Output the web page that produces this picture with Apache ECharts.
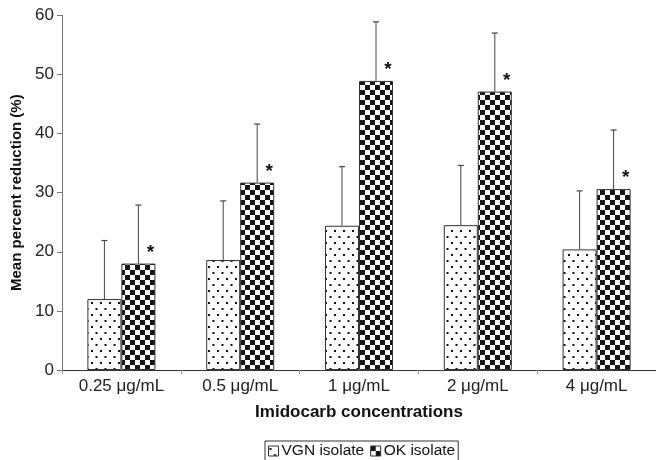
<!DOCTYPE html>
<html><head><meta charset="utf-8">
<script src="https://cdn.jsdelivr.net/npm/echarts@6/dist/echarts.min.js"></script>
<style>html,body{margin:0;padding:0;background:#fff}#c{width:656px;height:460px}</style>
</head><body><div id="c"></div>
<script>
// ---- data ----
const categories = ['0.25 μg/mL', '0.5 μg/mL', '1 μg/mL', '2 μg/mL', '4 μg/mL'];
const vgnValues = [12.0, 18.6, 24.4, 24.5, 20.4];
const okValues = [18.0, 31.7, 48.9, 47.1, 30.6];
const vgnErrors = [9.9, 10.0, 10.0, 10.1, 9.9];
const okErrors = [9.9, 9.9, 10.0, 9.9, 10.0];
const okSignificant = [true, true, true, true, true];
const yTicks = [0, 10, 20, 30, 40, 50, 60];
const seriesNames = ['VGN isolate', 'OK isolate'];

// ---- styles ----
const FONT = "'Liberation Sans', Arial, Helvetica, sans-serif";
const BAR_W = 34;

function dotPattern() {
  const c = document.createElement('canvas');
  c.width = 9; c.height = 12;
  const g = c.getContext('2d');
  g.fillStyle = '#fff'; g.fillRect(0, 0, 9, 12);
  g.fillStyle = '#111';
  g.fillRect(1, 2, 2, 2);
  g.fillRect(5.5, 8, 2, 2);
  return c;
}
function checkPattern() {
  const c = document.createElement('canvas');
  c.width = 10; c.height = 10;
  const g = c.getContext('2d');
  g.fillStyle = '#fff'; g.fillRect(0, 0, 10, 10);
  g.fillStyle = '#151515';
  g.fillRect(0, 0, 5, 5);
  g.fillRect(5, 5, 5, 5);
  return c;
}
const dotFill = { image: dotPattern(), repeat: 'repeat' };
const checkFill = { image: checkPattern(), repeat: 'repeat' };

function errData(vals, errs) {
  return vals.map((v, i) => [i, v, errs[i]]);
}

function makeErrRender(offsetSign, withStar) {
  return function (params, api) {
    const idx = api.value(0);
    const v = api.value(1);
    const e = api.value(2);
    const base = api.coord([idx, v]);
    const top = api.coord([idx, v + e]);
    const x = base[0] + offsetSign * BAR_W / 2;
    const children = [
      { type: 'line', shape: { x1: x, y1: base[1], x2: x, y2: top[1] }, style: { stroke: '#444', lineWidth: 1 } },
      { type: 'line', shape: { x1: x - 3, y1: top[1], x2: x + 3, y2: top[1] }, style: { stroke: '#444', lineWidth: 1.2 } }
    ];
    if (withStar && okSignificant[idx]) {
      children.push({ type: 'text', style: { x: x + 12, y: base[1] - 11, text: '*', fill: '#111', font: 'bold 19px ' + FONT, textAlign: 'center', textVerticalAlign: 'middle' } });
    }
    return { type: 'group', children: children };
  };
}

const chart = echarts.init(document.getElementById('c'), null, { renderer: 'canvas' });
chart.setOption({
  animation: false,
  textStyle: { fontFamily: FONT },
  grid: { left: 62, top: 15.3, width: 597, height: 354.7, containLabel: false },
  legend: {
    data: seriesNames.map(n => ({ name: n, icon: 'rect' })),
    top: 441, left: 265,
    itemWidth: 10, itemHeight: 10, itemGap: 6,
    padding: [2, 3, 2, 3],
    borderColor: '#333', borderWidth: 1, borderRadius: 0,
    textStyle: { fontSize: 15.5, color: '#111', fontFamily: FONT, padding: [0, 0, 0, -2] },
    itemStyle: { borderColor: '#333', borderWidth: 1 }
  },
  xAxis: {
    type: 'category', data: categories,
    name: 'Imidocarb concentrations', nameLocation: 'middle', nameGap: 34,
    nameTextStyle: { fontSize: 17, fontWeight: 'bold', color: '#111', fontFamily: FONT },
    axisLine: { lineStyle: { color: '#333', width: 1 } },
    axisTick: { show: true, length: 4, lineStyle: { color: '#999' } },
    axisLabel: { fontSize: 17, color: '#222', margin: 8, fontFamily: FONT },
    splitLine: { show: false }
  },
  yAxis: {
    type: 'value', min: yTicks[0], max: yTicks[yTicks.length - 1], interval: 10,
    name: 'Mean percent reduction (%)', nameLocation: 'middle', nameGap: 36, nameRotate: 90,
    nameTextStyle: { fontSize: 15, fontWeight: 'bold', color: '#111', fontFamily: FONT },
    axisLine: { show: true, lineStyle: { color: '#777', width: 1 } },
    axisTick: { show: true, length: 5, lineStyle: { color: '#777' } },
    axisLabel: { fontSize: 17, color: '#222', margin: 8, fontFamily: FONT },
    splitLine: { show: false }
  },
  series: [
    {
      name: seriesNames[0], type: 'bar', data: vgnValues, barWidth: BAR_W, barGap: '0%',
      itemStyle: { color: dotFill, borderColor: '#333', borderWidth: 1 }
    },
    {
      name: seriesNames[1], type: 'bar', data: okValues, barWidth: BAR_W, barGap: '0%',
      itemStyle: { color: checkFill, borderColor: '#333', borderWidth: 1 }
    },
    {
      type: 'custom', renderItem: makeErrRender(-1, false), data: errData(vgnValues, vgnErrors),
      encode: { x: 0, y: 1 }, z: 5, silent: true, tooltip: { show: false }
    },
    {
      type: 'custom', renderItem: makeErrRender(1, true), data: errData(okValues, okErrors),
      encode: { x: 0, y: 1 }, z: 5, silent: true, tooltip: { show: false }
    }
  ]
});
</script></body></html>
